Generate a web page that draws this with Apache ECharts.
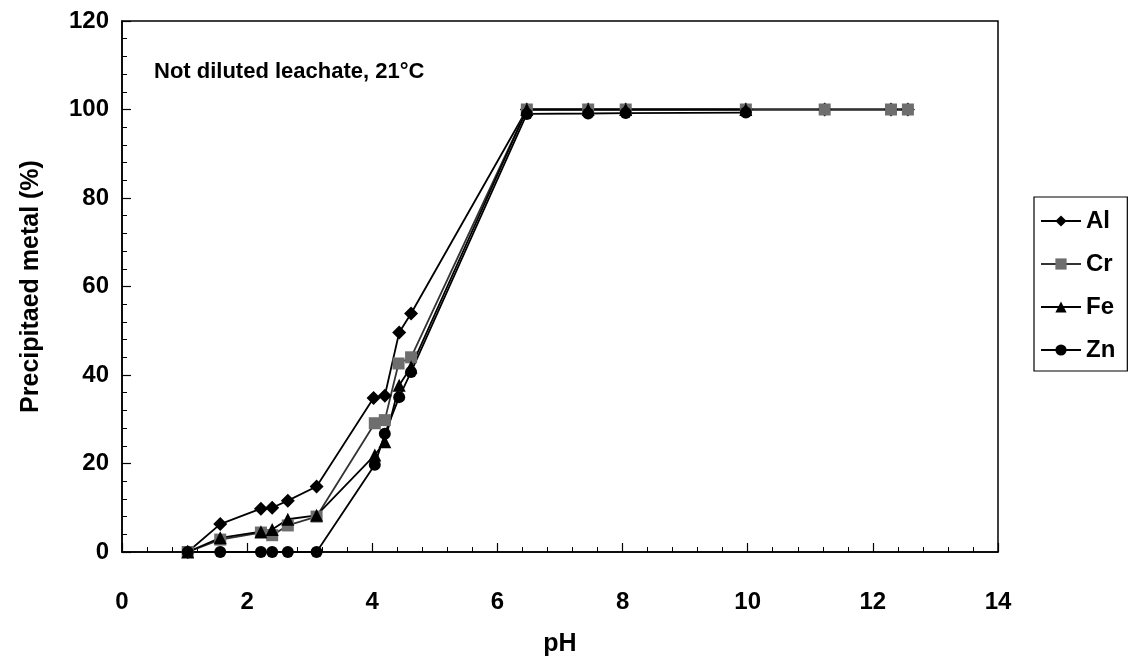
<!DOCTYPE html>
<html>
<head>
<meta charset="utf-8">
<script src="https://cdn.jsdelivr.net/npm/echarts@6/dist/echarts.min.js"></script>
<style>html,body{margin:0;padding:0;background:#fff}#c{width:1133px;height:666px}</style>
</head>
<body>
<div id="c"></div>
<script>
const alPH = [1.05, 1.57, 2.22, 2.40, 2.65, 3.11, 4.02, 4.20, 4.43, 4.62, 6.47, 7.45, 8.05, 9.97, 11.23, 12.29, 12.56];
const alVal = [0, 6.3, 9.8, 10.0, 11.6, 14.8, 34.8, 35.3, 49.6, 53.9, 100, 100, 100, 100, 100, 100, 100];
const crPH = [1.05, 1.57, 2.22, 2.40, 2.65, 3.11, 4.04, 4.20, 4.42, 4.62, 6.47, 7.45, 8.05, 9.97, 11.23, 12.29, 12.56];
const crVal = [0, 2.8, 4.4, 3.8, 6.0, 8.0, 29.1, 29.8, 42.6, 44.0, 100, 100, 100, 100, 100, 100, 100];
const fePH = [1.05, 1.57, 2.22, 2.40, 2.65, 3.11, 4.04, 4.20, 4.43, 4.62, 6.47, 7.45, 8.05, 9.97];
const feVal = [0, 3.2, 4.6, 5.1, 7.4, 8.3, 21.9, 24.9, 37.7, 41.8, 100, 100, 100, 100];
const znPH = [1.05, 1.57, 2.22, 2.40, 2.65, 3.11, 4.04, 4.20, 4.43, 4.62, 6.47, 7.45, 8.05, 9.97];
const znVal = [0, 0, 0, 0, 0, 0, 19.7, 26.7, 35.0, 40.7, 99.0, 99.1, 99.2, 99.3];
const seriesNames = ['Al', 'Cr', 'Fe', 'Zn'];
const xTicks = [0, 2, 4, 6, 8, 10, 12, 14];
const yTicks = [0, 20, 40, 60, 80, 100, 120];

const pairs = (xs, ys) => xs.map((x, i) => [x, ys[i]]);
const font = '"Liberation Sans", Arial, sans-serif';
const chart = echarts.init(document.getElementById('c'), null, {renderer: 'canvas'});

function mk(name, xs, ys, symbol, size, mColor, lColor) {
  return {
    name: name, type: 'line', data: pairs(xs, ys),
    symbol: symbol, symbolSize: size, showSymbol: true,
    lineStyle: {color: lColor, width: 1.8},
    itemStyle: {color: mColor, borderColor: mColor, borderWidth: 0},
    emphasis: {disabled: true}, animation: false
  };
}

chart.setOption({
  animation: false,
  backgroundColor: '#fff',
  title: {
    text: 'Not diluted leachate, 21°C', left: 149, top: 56,
    textStyle: {fontFamily: font, fontWeight: 'bold', fontSize: 22, color: '#000'}
  },
  grid: {left: 122, right: 135, top: 21, bottom: 114, show: true, borderColor: '#000', borderWidth: 1.5, containLabel: false},
  legend: {
    orient: 'vertical', left: 1034, top: 197,
    data: seriesNames,
    borderColor: '#000', borderWidth: 1.2, backgroundColor: '#fff',
    padding: [12, 12, 9, 6],
    itemWidth: 40, itemHeight: 14, itemGap: 19,
    textStyle: {fontFamily: font, fontWeight: 'bold', fontSize: 24, color: '#000'}
  },
  xAxis: {
    type: 'value', min: xTicks[0], max: xTicks[xTicks.length - 1], interval: 2,
    name: 'pH', nameLocation: 'middle', nameGap: 80,
    nameTextStyle: {fontFamily: font, fontWeight: 'bold', fontSize: 25, color: '#000'},
    axisLine: {show: true, onZero: false, lineStyle: {color: '#000', width: 1.5}},
    axisTick: {show: true, inside: true, length: 9, lineStyle: {color: '#000', width: 1.2}},
    minorTick: {show: true, splitNumber: 5, length: 5, lineStyle: {color: '#000', width: 1}},
    splitLine: {show: false},
    axisLabel: {margin: 38, fontFamily: font, fontWeight: 'bold', fontSize: 24, color: '#000'}
  },
  yAxis: {
    type: 'value', min: yTicks[0], max: yTicks[yTicks.length - 1], interval: 20,
    name: 'Precipitaed metal (%)', nameLocation: 'middle', nameGap: 78, nameRotate: 90,
    nameTextStyle: {fontFamily: font, fontWeight: 'bold', fontSize: 25, color: '#000'},
    axisLine: {show: true, lineStyle: {color: '#000', width: 1.5}},
    axisTick: {show: true, inside: true, length: 9, lineStyle: {color: '#000', width: 1.2}},
    minorTick: {show: true, splitNumber: 5, length: 5, lineStyle: {color: '#000', width: 1}},
    splitLine: {show: false},
    axisLabel: {margin: 13, fontFamily: font, fontWeight: 'bold', fontSize: 24, color: '#000'}
  },
  series: [
    mk('Al', alPH, alVal, 'diamond', 14, '#000', '#000'),
    mk('Cr', crPH, crVal, 'rect', 12, '#6e6e6e', '#333'),
    mk('Fe', fePH, feVal, 'triangle', 13, '#000', '#000'),
    mk('Zn', znPH, znVal, 'circle', 12, '#000', '#000')
  ]
});
</script>
</body>
</html>
